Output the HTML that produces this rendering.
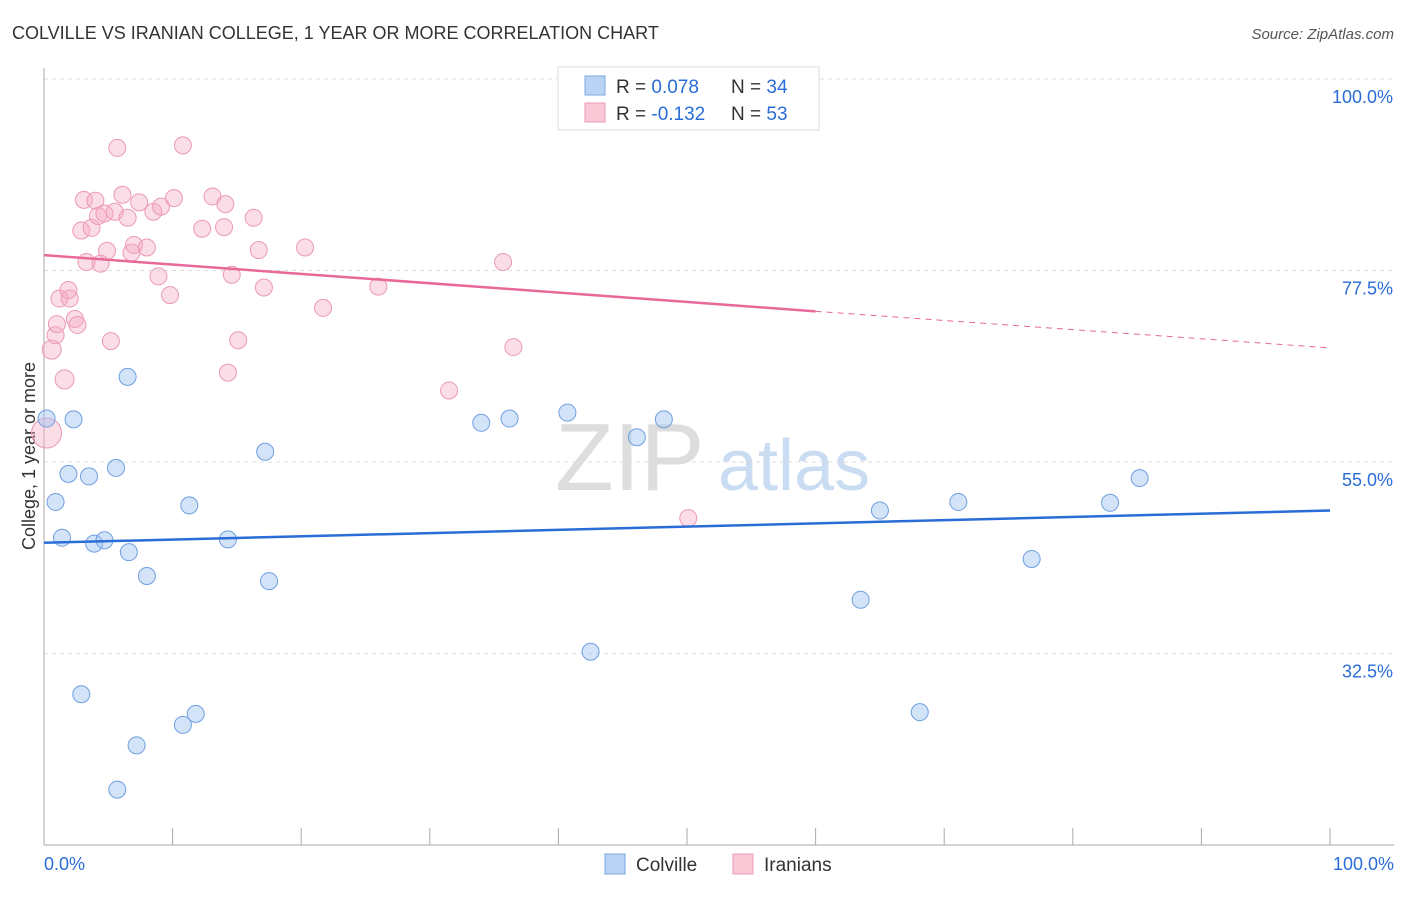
<!DOCTYPE html>
<html><head><meta charset="utf-8"><style>
body{margin:0;background:#fff;font-family:"Liberation Sans",sans-serif;}
svg text{font-family:"Liberation Sans",sans-serif;}
</style></head><body>
<svg id="chart" width="1406" height="892" viewBox="0 0 1406 892">
<text x="12" y="39" font-size="18" fill="#333">COLVILLE VS IRANIAN COLLEGE, 1 YEAR OR MORE CORRELATION CHART</text>
<text x="1394" y="39" font-size="15" fill="#555" text-anchor="end" font-style="italic">Source: ZipAtlas.com</text>
<text x="35" y="456" font-size="18" fill="#333" text-anchor="middle" transform="rotate(-90 35 456)">College, 1 year or more</text>
<text x="555" y="490" font-size="96" fill="#ddd" font-family="Liberation Serif">ZIP</text>
<text x="718" y="490" font-size="72" fill="#c9dcf2">atlas</text>
<g id="grid"></g><g id="axes"></g><g id="pts"></g><g id="lines"></g>
<g>
<rect x="558" y="67" width="261" height="63" fill="#fff" stroke="#ddd"/>
<rect x="585" y="76" width="20" height="19" fill="#b9d3f5" stroke="#7aa7e0"/>
<rect x="585" y="103" width="20" height="19" fill="#f9c9d8" stroke="#eb9ab5"/>
<text x="616" y="93" font-size="19" fill="#333">R = <tspan fill="#2a6dd6"> 0.078</tspan></text>
<text x="731" y="93" font-size="19" fill="#333">N = <tspan fill="#2a6dd6">34</tspan></text>
<text x="616" y="120" font-size="19" fill="#333">R = <tspan fill="#2a6dd6">-0.132</tspan></text>
<text x="731" y="120" font-size="19" fill="#333">N = <tspan fill="#2a6dd6">53</tspan></text>
</g>
<g>
<rect x="605" y="854" width="20" height="20" fill="#b9d3f5" stroke="#7aa7e0"/>
<text x="636" y="871" font-size="19" fill="#333">Colville</text>
<rect x="733" y="854" width="20" height="20" fill="#f9c9d8" stroke="#eb9ab5"/>
<text x="764" y="871" font-size="19" fill="#333">Iranians</text>
</g>
</svg>
<script>
const yTicks=[100,77.5,55,32.5];
const yTickLabels=["100.0%","77.5%","55.0%","32.5%"];
const xTicks=[0,10,20,30,40,50,60,70,80,90,100];
const xTickLabels=["0.0%","100.0%"];
const blueX=[0.2,2.3,6.5,1.9,3.5,5.6,0.9,1.4,3.9,4.7,6.6,8,11.3,14.3,17.2,17.5,2.9,7.2,5.7,10.8,11.8,34,36.2,40.7,46.1,48.2,42.5,63.5,65,71.1,68.1,76.8,82.9,85.2];
const blueY=[60.1,60,65,53.6,53.3,54.3,50.3,46.1,45.4,45.8,44.4,41.6,49.9,45.9,56.2,41,27.7,21.7,16.5,24.1,25.4,59.6,60.1,60.8,57.9,60,32.7,38.8,49.3,50.3,25.6,43.6,50.2,53.1];
const pinkX=[0.2,0.6,1.6,0.9,1,1.2,2,1.9,2.4,2.6,2.9,3.1,3.7,3.3,4,4.2,4.4,4.7,4.9,5.2,5.5,5.7,6.1,6.5,6.8,7,7.4,8,8.5,8.9,9.1,9.8,10.1,10.8,12.3,13.1,14,14.1,14.3,14.6,15.1,16.3,16.7,17.1,20.3,21.7,26,31.5,35.7,36.5,50.1,54.5];
const pinkY=[58.4,68.2,64.7,69.9,71.2,74.2,74.2,75.2,71.8,71.1,82.2,85.8,82.5,78.5,85.7,83.9,78.3,84.2,79.8,69.2,84.4,91.9,86.4,83.7,79.6,80.5,85.5,80.2,84.4,76.8,85,74.6,86,92.2,82.4,86.2,82.6,85.3,65.5,77,69.3,83.7,79.9,75.5,80.2,73.1,75.6,63.4,78.5,68.5,48.4,100];
const blueTrend=[[0,45.5],[100,49.3]];
const pinkTrend=[[0,79.3],[60,72.7],[100,68.4]];
const X=v=>44+v*12.86, Y=v=>79+(100-v)*8.51;
const NS='http://www.w3.org/2000/svg';
function mk(p,t,a){const e=document.createElementNS(NS,t);for(const k in a)e.setAttribute(k,a[k]);document.getElementById(p).appendChild(e);return e;}
yTicks.forEach((t,i)=>{
 const g=mk('grid','line',{x1:44,x2:1394,y1:Y(t),y2:Y(t),stroke:'#ddd','stroke-dasharray':'4,4'});
 
 
 const l=mk('grid','text',{x:1393,y:Y(t)+24,'font-size':18,fill:'#2a6dd6','text-anchor':'end'});
 l.textContent=yTickLabels[i];
 
 
});
const ya=mk('axes','line',{x1:44,x2:44,y1:68,y2:845,stroke:'#aaa'});


const xa=mk('axes','line',{x1:44,x2:1394,y1:845,y2:845,stroke:'#aaa'});


xTicks.forEach(t=>{const k=mk('axes','line',{x1:X(t),x2:X(t),y1:828,y2:845,stroke:'#aaa'});
 
 });
[[0,'start',44],[100,'end',1394]].forEach((d,i)=>{const l=mk('axes','text',{x:d[2],y:870,'font-size':18,fill:'#2a6dd6','text-anchor':d[1]});l.textContent=xTickLabels[i];
 
 });
pinkX.forEach((x,i)=>{const c=mk('pts','circle',{cx:X(x),cy:Y(pinkY[i]),r:i==0?15:(i<3?9.5:8.5),fill:'rgba(246,170,195,0.4)',stroke:'#eb9ab5','stroke-width':1});
 
 });
blueX.forEach((x,i)=>{const c=mk('pts','circle',{cx:X(x),cy:Y(blueY[i]),r:8.5,fill:'rgba(160,195,240,0.45)',stroke:'#6f9fe0','stroke-width':1});
 
 });
const bl=mk('lines','line',{x1:X(blueTrend[0][0]),y1:Y(blueTrend[0][1]),x2:X(blueTrend[1][0]),y2:Y(blueTrend[1][1]),stroke:'#2a6dd6','stroke-width':2.5});


const pl=mk('lines','line',{x1:X(pinkTrend[0][0]),y1:Y(pinkTrend[0][1]),x2:X(pinkTrend[1][0]),y2:Y(pinkTrend[1][1]),stroke:'#e8689a','stroke-width':2.5});


const pd=mk('lines','line',{x1:X(pinkTrend[1][0]),y1:Y(pinkTrend[1][1]),x2:X(pinkTrend[2][0]),y2:Y(pinkTrend[2][1]),stroke:'#e8689a','stroke-width':1,'stroke-dasharray':'6,5'});


</script>
</body></html>
